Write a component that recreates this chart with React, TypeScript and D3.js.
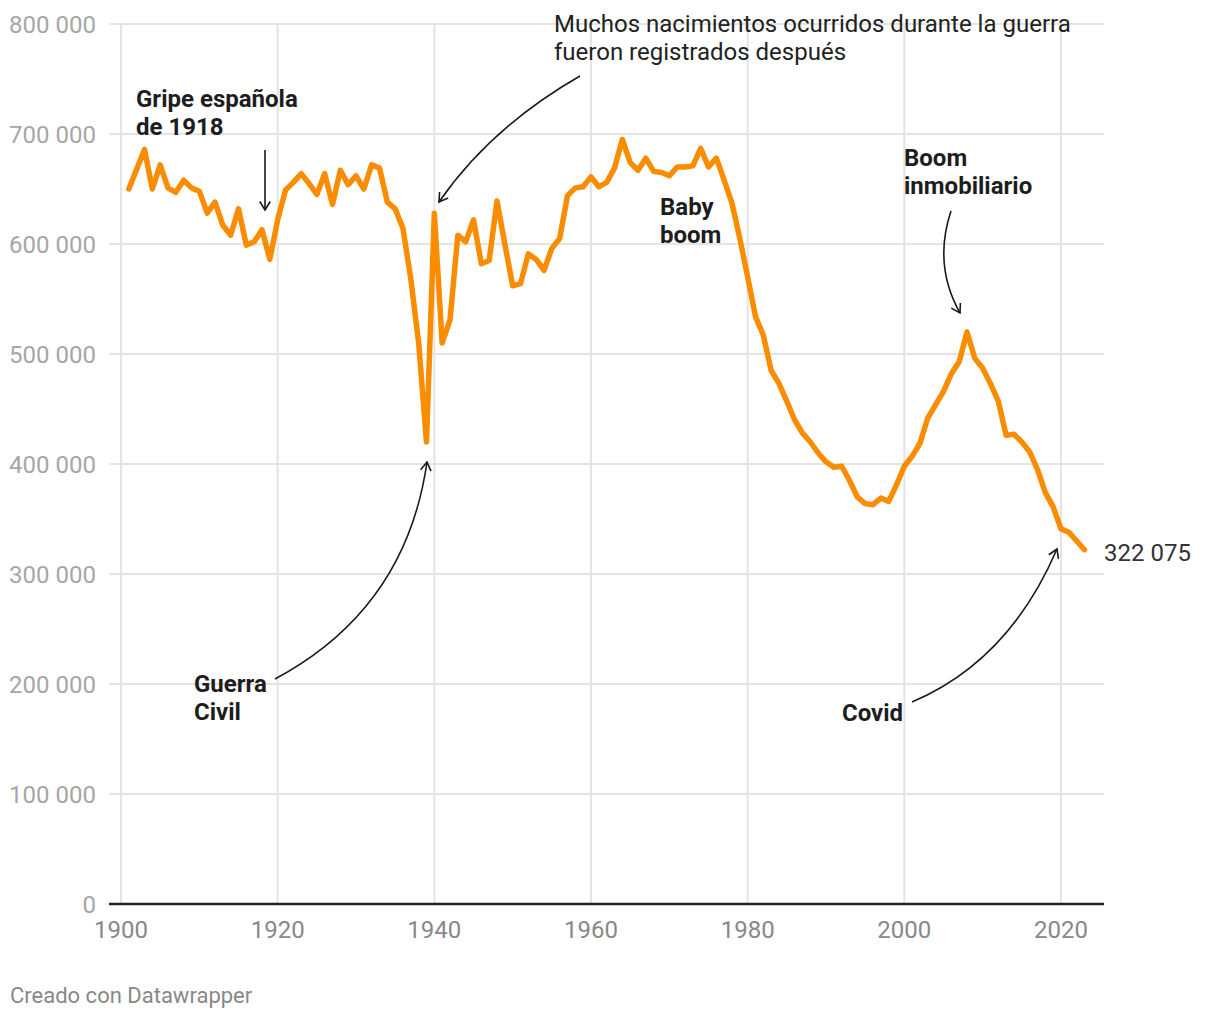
import React from "react";
import * as d3 from "d3";

const years: number[] = d3.range(1901, 2024);
const births: number[] = [
  650000, 668000, 686000, 650000, 672000, 651000, 647000, 658000, 651000, 648000,
  628000, 638000, 617000, 608000, 632000, 599000, 602000, 613000, 586000, 622000,
  649000, 656000, 664000, 655000, 645000, 664000, 636000, 667000, 654000, 662000,
  650000, 672000, 669000, 638000, 632000, 614000, 568000, 510000, 420000, 628000,
  510000, 531000, 608000, 602000, 622000, 582000, 585000, 639000, 600000, 562000,
  564000, 591000, 586000, 576000, 596000, 605000, 644000, 651000, 652000, 661000,
  652000, 656000, 669000, 695000, 674000, 667000, 678000, 666000, 665000, 662000,
  670000, 670000, 671000, 687000, 670000, 678000, 658000, 637000, 605000, 570000,
  534000, 517000, 485000, 473000, 457000, 440000, 428000, 420000, 410000, 402000,
  397000, 398000, 385000, 370000, 364000, 363000, 369000, 366000, 381000, 398000,
  407000, 419000, 442000, 454000, 466000, 482000, 493000, 520000, 496000, 487000,
  473000, 457000, 426000, 427000, 420000, 411000, 395000, 374000, 361000, 341000,
  338000, 330000, 322075,
];
const yTicks: number[] = [0, 100000, 200000, 300000, 400000, 500000, 600000, 700000, 800000];
const xTicks: number[] = [1900, 1920, 1940, 1960, 1980, 2000, 2020];
const lastLabel = "322 075";
const footer = "Creado con Datawrapper";

type Note = { lines: string[]; x: number; y: number; bold: boolean };
const notes: Note[] = [
  { lines: ["Muchos nacimientos ocurridos durante la guerra", "fueron registrados después"], x: 554, y: 32, bold: false },
  { lines: ["Gripe española", "de 1918"], x: 136, y: 107, bold: true },
  { lines: ["Baby", "boom"], x: 660, y: 215, bold: true },
  { lines: ["Boom", "inmobiliario"], x: 904, y: 166, bold: true },
  { lines: ["Guerra", "Civil"], x: 194, y: 692, bold: true },
  { lines: ["Covid"], x: 842, y: 721, bold: true },
];

// arrows: start, control, end (quadratic)
const arrows: [number, number, number, number, number, number][] = [
  [580, 76, 491, 127, 439, 202],
  [265, 150, 265, 180, 265, 210],
  [951, 211, 933, 265, 960, 313],
  [275, 679, 406, 609, 427, 462],
  [912, 702, 1009, 661, 1057, 549],
];

export default function App() {
  const W = 1220, H = 1020;
  const left = 109, right = 1104, top = 24, bottom = 904;
  const x = d3.scaleLinear().domain([1900, 2023]).range([121, 1084.5]);
  const y = d3.scaleLinear().domain([0, 800000]).range([bottom, top]);
  const fmt = (v: number) => d3.format(",")(v).replace(/,/g, " ");
  const line = d3.line<number>().x((_, i) => x(years[i])).y((d) => y(d)).curve(d3.curveLinear);
  const font = "Roboto, sans-serif";
  const fs = 24;

  const arrowHead = (a: number[]) => {
    const [, , cx, cy, ex, ey] = a;
    const ang = Math.atan2(ey - cy, ex - cx);
    const L = 10, spread = 0.55;
    const p1 = [ex - L * Math.cos(ang - spread), ey - L * Math.sin(ang - spread)];
    const p2 = [ex - L * Math.cos(ang + spread), ey - L * Math.sin(ang + spread)];
    return `M${p1[0]},${p1[1]}L${ex},${ey}L${p2[0]},${p2[1]}`;
  };

  return (
    <div style={{ position: "absolute", left: 0, top: 0 }}>
      <svg width={W} height={H} style={{ display: "block", fontFamily: font }}>
        <rect width={W} height={H} fill="#fff" />
        {yTicks.filter((t) => t > 0).map((t) => (
          <line key={"gy" + t} x1={left} x2={right} y1={y(t)} y2={y(t)} stroke="#e4e4e4" strokeWidth={2} />
        ))}
        {xTicks.map((t) => (
          <line key={"gx" + t} x1={x(t)} x2={x(t)} y1={top} y2={bottom} stroke="#e4e4e4" strokeWidth={2} />
        ))}
        {yTicks.map((t) => (
          <text key={"ty" + t} x={96} y={y(t)} dy="0.36em" textAnchor="end" fontSize={fs} fill="#a6a6a6">
            {fmt(t)}
          </text>
        ))}
        {xTicks.map((t) => (
          <text key={"tx" + t} x={x(t)} y={938} textAnchor="middle" fontSize={fs} fill="#888">
            {t}
          </text>
        ))}
        <line x1={left} x2={right} y1={bottom} y2={bottom} stroke="#222" strokeWidth={2.5} />
        <path d={line(births) || ""} fill="none" stroke="#fa8c00" strokeWidth={5.5} strokeLinejoin="round" strokeLinecap="round" />
        <text x={x(years[years.length - 1]) + 19.5} y={y(births[births.length - 1])} dy="0.48em" fontSize={fs} fill="#333">
          {lastLabel}
        </text>
        {arrows.map((a, i) => (
          <g key={"ar" + i} fill="none" stroke="#1a1a1a" strokeWidth={1.6}>
            <path d={`M${a[0]},${a[1]}Q${a[2]},${a[3]} ${a[4]},${a[5]}`} />
            <path d={arrowHead(a)} />
          </g>
        ))}
        {notes.map((n, i) => (
          <text key={"n" + i} x={n.x} y={n.y} fontSize={fs} fontWeight={n.bold ? 700 : 400} fill={n.bold ? "#1d1d1d" : "#222"}>
            {n.lines.map((l, j) => (
              <tspan key={j} x={n.x} y={n.y + j * 27.5}>{l}</tspan>
            ))}
          </text>
        ))}
        <text x={10} y={1003} fontSize={22} fill="#888">{footer}</text>
      </svg>
    </div>
  );
}
